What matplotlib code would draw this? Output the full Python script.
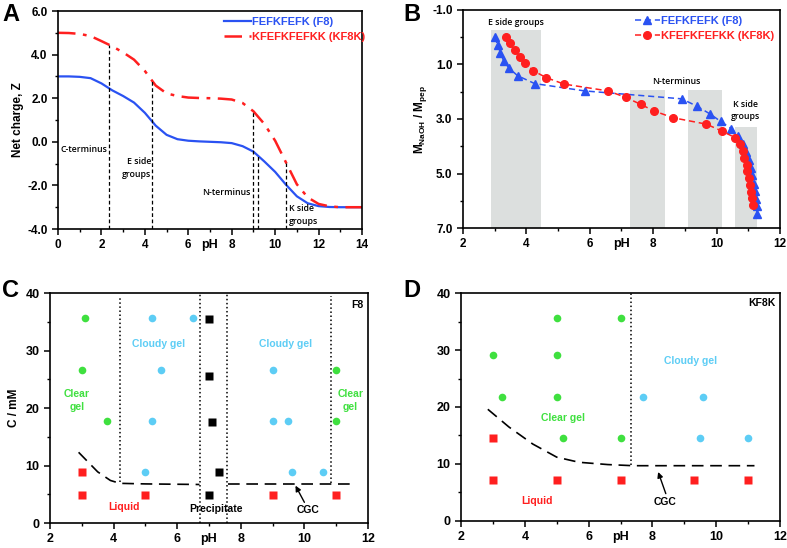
import matplotlib
matplotlib.use("Agg")
import matplotlib.pyplot as plt
from matplotlib.ticker import MultipleLocator, FormatStrFormatter

plt.rcParams['font.family'] = ['Liberation Sans', 'DejaVu Sans']
plt.rcParams['font.weight'] = 'bold'
plt.rcParams['axes.labelweight'] = 'bold'
plt.rcParams['mathtext.fontset'] = 'custom'
plt.rcParams['mathtext.bf'] = 'Liberation Sans:bold'
plt.rcParams['mathtext.rm'] = 'Liberation Sans:bold'
plt.rcParams['mathtext.it'] = 'Liberation Sans:bold'

BLUE = '#2a52f2'
RED = '#ff1f1f'
GREEN = '#3fe03f'
CYAN = '#5dcdf5'
GREY = '#dcdfde'

# ---- Panel A: net charge vs pH ----
ph_a = [0, 0.5, 1, 1.5, 2, 2.5, 3, 3.5, 4, 4.5, 5, 5.5, 6, 6.5, 7, 7.5, 8,
        8.5, 9, 9.5, 10, 10.5, 11, 11.5, 12, 12.5, 13, 13.5, 14]
z_f8 = [3.00, 3.00, 2.98, 2.92, 2.68, 2.36, 2.10, 1.80, 1.33, 0.74, 0.32, 0.12,
        0.05, 0.02, 0.00, -0.02, -0.06, -0.20, -0.45, -0.90, -1.38, -1.97,
        -2.50, -2.82, -2.95, -2.99, -3.00, -3.00, -3.00]
z_kf8k = [5.00, 4.99, 4.95, 4.85, 4.62, 4.38, 4.10, 3.77, 3.25, 2.58, 2.22, 2.10,
          2.03, 2.01, 2.00, 1.98, 1.94, 1.78, 1.40, 0.82, 0.05, -0.95, -1.95,
          -2.55, -2.85, -2.96, -3.00, -3.00, -3.00]
pka_ph = [2.35, 4.35, 9.0, 9.22, 10.52]
pka_top = [4.45, 2.85, 1.4, -0.6, -0.98]

# ---- Panel B: titration ----
ph_b_f8 = [3.00, 3.10, 3.18, 3.28, 3.45, 3.72, 4.26, 5.84, 8.90, 9.38, 9.80,
           10.13, 10.47, 10.68, 10.82, 10.93, 11.01, 11.08, 11.13, 11.18,
           11.21, 11.24, 11.26, 11.28]
m_f8 = [0.00, 0.29, 0.57, 0.86, 1.13, 1.41, 1.70, 1.97, 2.26, 2.53, 2.82, 3.09,
        3.36, 3.63, 3.93, 4.21, 4.49, 4.78, 5.07, 5.37, 5.65, 5.92, 6.20, 6.48]
ph_b_kf8k = [3.37, 3.47, 3.63, 3.81, 3.95, 4.22, 4.62, 5.19, 6.58, 7.14, 7.60,
             8.02, 8.61, 9.68, 10.16, 10.58, 10.74, 10.82, 10.86, 10.95, 10.97,
             11.03, 11.05, 11.07, 11.11, 11.14]
m_kf8k = [-0.02, 0.23, 0.47, 0.72, 0.96, 1.23, 1.48, 1.72, 1.97, 2.21, 2.46,
          2.70, 2.95, 3.19, 3.44, 3.68, 3.93, 4.17, 4.42, 4.67, 4.92, 5.16,
          5.41, 5.67, 5.90, 6.16]
band_lo = [2.87, 7.26, 9.10, 10.58]
band_hi = [4.45, 8.37, 10.18, 11.28]
band_top = [-0.26, 1.94, 1.94, 3.29]
b_yticks = [-1, 1, 3, 5, 7]
b_yminor = [0, 2, 4, 6]

# ---- Panel C: F8 phase diagram ----
c_green_ph = [3.1, 3.0, 3.8, 11.0, 11.0]
c_green_c = [35.6, 26.6, 17.8, 26.6, 17.8]
c_cyan_ph = [5.2, 6.5, 5.5, 5.2, 5.0, 9.0, 9.0, 9.5, 9.6, 10.6]
c_cyan_c = [35.6, 35.6, 26.6, 17.8, 8.8, 26.6, 17.8, 17.8, 8.8, 8.8]
c_black_ph = [7.0, 7.0, 7.1, 7.3, 7.0]
c_black_c = [35.5, 25.5, 17.5, 8.8, 4.9]
c_red_ph = [3.0, 3.0, 5.0, 9.0, 11.0]
c_red_c = [8.8, 4.9, 4.9, 4.9, 4.9]
c_cgc1_ph = [2.9, 3.2, 3.5, 3.9, 4.2, 5.0, 6.7]
c_cgc1_c = [12.3, 10.6, 8.9, 7.4, 6.9, 6.8, 6.7]
c_cgc2_ph = [7.6, 11.5]
c_cgc2_c = [6.8, 6.8]

# ---- Panel D: KF8K phase diagram ----
d_green_ph = [5.0, 7.0, 3.0, 5.0, 3.3, 5.0, 5.2, 7.0]
d_green_c = [35.6, 35.6, 29.1, 29.1, 21.8, 21.8, 14.5, 14.5]
d_cyan_ph = [7.7, 9.6, 9.5, 11.0]
d_cyan_c = [21.8, 21.8, 14.5, 14.5]
d_red_ph = [3.0, 3.0, 5.0, 7.0, 9.3, 11.0]
d_red_c = [14.5, 7.2, 7.2, 7.2, 7.2, 7.2]
d_cgc_ph = [2.84, 3.5, 4.25, 5.0, 5.7, 6.6, 7.4, 11.2]
d_cgc_c = [19.6, 16.5, 13.5, 11.2, 10.3, 9.9, 9.7, 9.7]


def style(ax, xmaj, ymaj, fmt=None, size=8.5):
    ax.xaxis.set_major_locator(MultipleLocator(xmaj))
    ax.xaxis.set_minor_locator(MultipleLocator(xmaj / 2))
    if ymaj:
        ax.yaxis.set_major_locator(MultipleLocator(ymaj))
        ax.yaxis.set_minor_locator(MultipleLocator(ymaj / 2))
    if fmt:
        ax.yaxis.set_major_formatter(FormatStrFormatter(fmt))
    ax.tick_params(which='major', direction='out', length=4, width=1.1, labelsize=size)
    ax.tick_params(which='minor', direction='out', length=2.5, width=1.0)
    for lab in ax.get_xticklabels() + ax.get_yticklabels():
        lab.set_fontweight('bold')
    for s in ax.spines.values():
        s.set_linewidth(1.2)
    ax.set_xlabel('pH', fontsize=9, labelpad=-9)


def cgc_arrow(ax, text_xy, start, tip):
    ax.text(text_xy[0], text_xy[1], 'CGC', fontsize=7.5, fontweight='bold',
            ha='center', va='center')
    ax.annotate('', xy=tip, xytext=start,
                arrowprops=dict(arrowstyle='-|>', color='black', lw=1.0,
                                mutation_scale=8, shrinkA=0, shrinkB=0))


fig = plt.figure(figsize=(7.87, 5.48), dpi=100)

# Panel A
axA = fig.add_axes([0.0737, 0.5821, 0.3863, 0.3978])
axA.plot(ph_a, z_f8, color=BLUE, lw=1.6, label='FEFKFEFK (F8)')
axA.plot(ph_a, z_kf8k, color=RED, lw=1.8, dashes=(7, 3, 1.5, 3), label='KFEFKFEFKK (KF8K)')
for x, top in zip(pka_ph, pka_top):
    axA.plot([x, x], [-4, top], color='black', lw=0.9, dashes=(3, 2))
axA.set_xlim(0, 14)
axA.set_ylim(-4, 6)
style(axA, 2, 2, '%.1f')
axA.set_ylabel('Net charge, Z', fontsize=8.5, labelpad=2)
ann = dict(family=['Open Sans', 'DejaVu Sans'], fontsize=6.3, fontweight='semibold')
axA.text(0.1, -0.35, 'C-terminus', ha='left', va='center', **ann)
axA.text(4.3, -1.2, 'E side\ngroups', ha='right', va='center', linespacing=1.5, **ann)
axA.text(8.85, -2.32, 'N-terminus', ha='right', va='center', **ann)
axA.text(10.62, -3.35, 'K side\ngroups', ha='left', va='center', linespacing=1.5, **ann)
legA = axA.legend(loc='upper right', frameon=False, fontsize=8, handlelength=2.5,
                  handletextpad=0.1, borderaxespad=0.1, labelspacing=0.5,
                  bbox_to_anchor=(1.03, 1.0))
for t, c in zip(legA.get_texts(), [BLUE, RED]):
    t.set_color(c)
    t.set_fontweight('bold')
fig.text(0.003, 0.995, 'A', fontsize=17, fontweight='bold', va='top')

# Panel B
axB = fig.add_axes([0.5883, 0.5839, 0.4028, 0.3979])
for lo, hi, top in zip(band_lo, band_hi, band_top):
    axB.fill_between([lo, hi], [top, top], [7, 7], color=GREY, lw=0, zorder=0)
axB.plot(ph_b_f8, m_f8, color=BLUE, lw=1.1, dashes=(4, 2.5), marker='^',
         ms=5.5, label='FEFKFEFK (F8)')
axB.plot(ph_b_kf8k, m_kf8k, color=RED, lw=1.1, dashes=(4, 2.5), marker='o',
         ms=5.5, label='KFEFKFEFKK (KF8K)')
axB.set_xlim(2, 12)
axB.set_ylim(7, -1)
axB.set_yticks(b_yticks)
axB.set_yticks(b_yminor, minor=True)
style(axB, 2, None, '%.1f')
axB.set_ylabel(r'$\mathbf{M_{NaOH}}$ / $\mathbf{M_{pep}}$', fontsize=8.5, labelpad=2)
axB.text(3.66, -0.53, 'E side groups', ha='center', va='center', **ann)
axB.text(8.72, 1.63, 'N-terminus', ha='center', va='center', **ann)
axB.text(10.9, 2.68, 'K side\ngroups', ha='center', va='center', linespacing=1.5, **ann)
legB = axB.legend(loc='upper right', frameon=False, fontsize=8, handlelength=2.3,
                  handletextpad=0.1, borderaxespad=0.1, labelspacing=0.5,
                  bbox_to_anchor=(1.0, 1.0))
for t, c in zip(legB.get_texts(), [BLUE, RED]):
    t.set_color(c)
    t.set_fontweight('bold')
fig.text(0.513, 0.995, 'B', fontsize=17, fontweight='bold', va='top')

txt = dict(fontsize=7.5, fontweight='bold', ha='center', va='center')

# Panel C
axC = fig.add_axes([0.0635, 0.0456, 0.4041, 0.4197])
axC.plot(c_green_ph, c_green_c, 'o', color=GREEN, ms=5.5, mec='none')
axC.plot(c_cyan_ph, c_cyan_c, 'o', color=CYAN, ms=5.5, mec='none')
axC.plot(c_black_ph, c_black_c, 's', color='black', ms=5.2, mec='none')
axC.plot(c_red_ph, c_red_c, 's', color=RED, ms=5.2, mec='none')
axC.plot(c_cgc1_ph, c_cgc1_c, color='black', lw=1.2, dashes=(7, 4))
axC.plot(c_cgc2_ph, c_cgc2_c, color='black', lw=1.2, dashes=(7, 4))
axC.plot([4.2, 4.2], [7.2, 39.5], color='black', lw=1.1, ls=':')
axC.plot([6.73, 6.73], [0, 40], color='black', lw=1.1, ls=':')
axC.plot([7.57, 7.57], [0, 40], color='black', lw=1.1, ls=':')
axC.plot([10.85, 10.85], [6.9, 39.5], color='black', lw=1.1, ls=':')
axC.set_xlim(2, 12)
axC.set_ylim(0, 40)
style(axC, 2, 10, size=9)
axC.set_ylabel('C / mM', fontsize=8.5, labelpad=4)
axC.text(5.43, 31.2, 'Cloudy gel', color=CYAN, **txt)
axC.text(9.4, 31.2, 'Cloudy gel', color=CYAN, **txt)
axC.text(2.84, 21.3, 'Clear\ngel', color=GREEN, linespacing=1.3, **txt)
axC.text(11.44, 21.3, 'Clear\ngel', color=GREEN, linespacing=1.3, **txt)
axC.text(4.34, 2.8, 'Liquid', color=RED, **txt)
axC.text(7.22, 2.4, 'Precipitate', color='black', **txt)
axC.text(11.85, 38.0, 'F8', color='black', fontsize=7.5, fontweight='bold', ha='right', va='center')
cgc_arrow(axC, (10.1, 2.2), (10.0, 3.6), (9.72, 6.5))
fig.text(0.003, 0.49, 'C', fontsize=17, fontweight='bold', va='top')

# Panel D
axD = fig.add_axes([0.5858, 0.0493, 0.4053, 0.416])
axD.plot(d_green_ph, d_green_c, 'o', color=GREEN, ms=5.5, mec='none')
axD.plot(d_cyan_ph, d_cyan_c, 'o', color=CYAN, ms=5.5, mec='none')
axD.plot(d_red_ph, d_red_c, 's', color=RED, ms=5.2, mec='none')
axD.plot(d_cgc_ph, d_cgc_c, color='black', lw=1.2, dashes=(7, 4))
axD.plot([7.32, 7.32], [9.8, 40], color='black', lw=1.1, ls=':')
axD.set_xlim(2, 12)
axD.set_ylim(0, 40)
style(axD, 2, 10, size=9)
axD.text(9.2, 28.0, 'Cloudy gel', color=CYAN, **txt)
axD.text(5.19, 18.1, 'Clear gel', color=GREEN, **txt)
axD.text(4.38, 3.5, 'Liquid', color=RED, **txt)
axD.text(11.85, 38.2, 'KF8K', color='black', fontsize=7.5, fontweight='bold', ha='right', va='center')
cgc_arrow(axD, (8.39, 3.3), (8.42, 4.8), (8.18, 8.6))
fig.text(0.513, 0.49, 'D', fontsize=17, fontweight='bold', va='top')

fig.savefig('out.png', dpi=100)
